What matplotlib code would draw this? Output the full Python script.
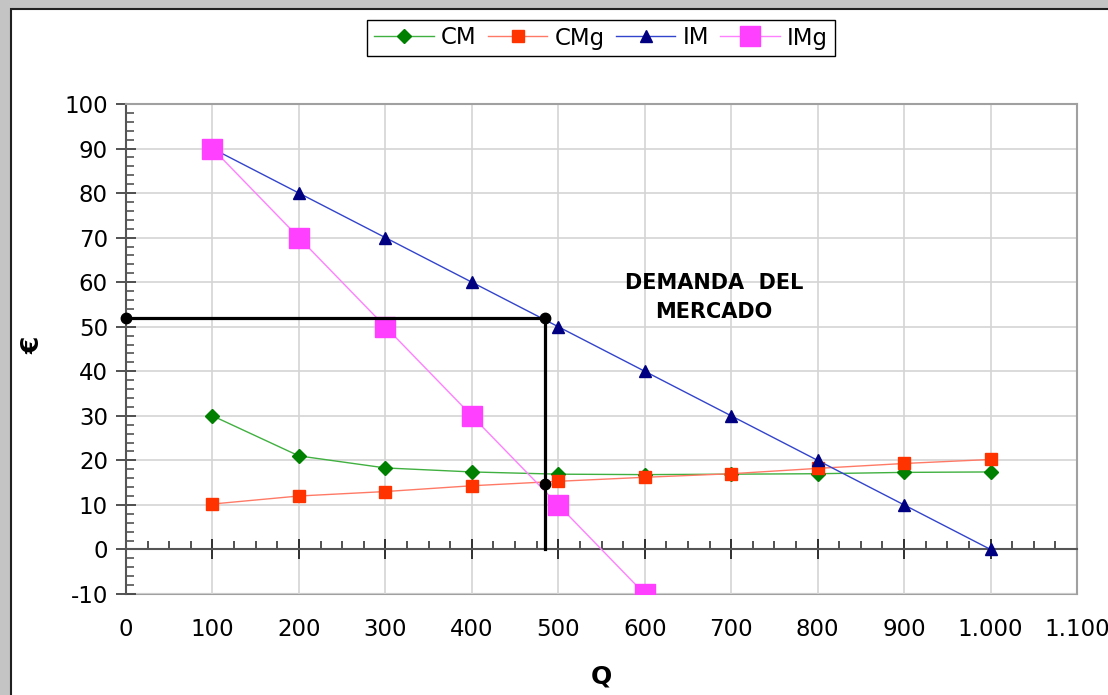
import matplotlib.pyplot as plt
from matplotlib.patches import Rectangle
from matplotlib.ticker import MultipleLocator, FuncFormatter

plt.rcParams['font.family'] = ['DejaVu Sans']
plt.rcParams['axes.unicode_minus'] = False

# data
q = [100, 200, 300, 400, 500, 600, 700, 800, 900, 1000]
cm = [30.0, 21.0, 18.3, 17.4, 16.9, 16.8, 16.9, 17.0, 17.3, 17.4]
cmg = [10.2, 12.0, 13.0, 14.3, 15.3, 16.2, 17.0, 18.2, 19.3, 20.2]
im = [90, 80, 70, 60, 50, 40, 30, 20, 10, 0]
q_img = [100, 200, 300, 400, 500, 600]
img = [90, 70, 50, 30, 10, -10]

# equilibrium guide lines
q_eq = 485
p_eq = 52
c_eq = 14.6

fig = plt.figure(figsize=(11.08, 6.95), dpi=100)
fig.patch.set_facecolor('#c4c4c4')
fig.patches.append(Rectangle((11 / 1108, -0.05), 1.1, 1.05 - 9 / 695,
                             transform=fig.transFigure, facecolor='white',
                             edgecolor='#202020', lw=1.5, zorder=-5))

ax = fig.add_axes([126 / 1108, 1 - 594 / 695, (1077 - 126) / 1108, (594 - 104) / 695])
ax.set_facecolor('white')

ax.plot(q, cm, color='#40b040', lw=1, marker='D', ms=7, mfc='#008000', mec='#008000', label='CM', zorder=3)
ax.plot(q, cmg, color='#ff7a66', lw=1, marker='s', ms=8.5, mfc='#ff3300', mec='#ff3300', label='CMg', zorder=3)
ax.plot(q, im, color='#3344cc', lw=1, marker='^', ms=9, mfc='#000080', mec='#000080', label='IM', zorder=3)
ax.plot(q_img, img, color='#ff80ff', lw=1, marker='s', ms=14.5, mfc='#ff40ff', mec='#ff40ff', label='IMg', zorder=3)

ax.plot([0, q_eq, q_eq], [p_eq, p_eq, 0], color='black', lw=2.3, zorder=4, clip_on=False)
ax.plot([0, q_eq, q_eq], [p_eq, p_eq, c_eq], ls='none', marker='o', ms=7.5, color='black', zorder=5, clip_on=False)

ax.text(680, 56.5, 'DEMANDA  DEL\nMERCADO', ha='center', va='center',
        fontsize=15, fontweight='bold', linespacing=1.55, zorder=6)

ax.set_xlim(0, 1100)
ax.set_ylim(-10, 100)

ax.xaxis.set_major_locator(MultipleLocator(100))
ax.xaxis.set_minor_locator(MultipleLocator(25))
ax.yaxis.set_major_locator(MultipleLocator(10))
ax.yaxis.set_minor_locator(MultipleLocator(2))
ax.grid(True, which='major', color='#d4d4d4', lw=1.2)
ax.set_axisbelow(True)

# horizontal axis line sits at y = 0
ax.spines['bottom'].set_position(('data', 0))
ax.spines['bottom'].set_color('#555555')
ax.spines['bottom'].set_linewidth(1.5)
for s in ['top', 'right']:
    ax.spines[s].set_color('#a0a0a0')
    ax.spines[s].set_linewidth(1.5)
ax.spines['left'].set_color('#555555')
ax.spines['left'].set_linewidth(1.5)

ax.tick_params(axis='x', which='major', direction='inout', length=14, width=1.3,
               color='#222222', labelbottom=False)
ax.tick_params(axis='x', which='minor', direction='in', length=6, width=1.1, color='#222222')
ax.tick_params(axis='y', which='major', direction='inout', length=14, width=1.3,
               color='#444444', labelsize=16.5, pad=6)
ax.tick_params(axis='y', which='minor', direction='in', length=6, width=1.1, color='#444444')

# labels and bottom border of the plot area
xlab = ax.secondary_xaxis('bottom')
xlab.xaxis.set_major_locator(MultipleLocator(100))
xlab.xaxis.set_major_formatter(FuncFormatter(lambda v, p: f'{int(v):,}'.replace(',', '.')))
xlab.spines['bottom'].set_color('#a0a0a0')
xlab.spines['bottom'].set_linewidth(1.5)
xlab.tick_params(length=0, labelsize=16.5, pad=17)
xlab.set_xlabel('Q', fontsize=18, fontweight='bold', labelpad=17)

fig.text(33 / 1108, 1 - 345 / 695, '€', fontsize=18, fontweight='bold',
         rotation=90, ha='center', va='center')

fig.legend(loc='center', bbox_to_anchor=(601 / 1108, 1 - 38 / 695), ncol=4,
           fontsize=16.5, frameon=True, fancybox=False, edgecolor='black',
           framealpha=1, handlelength=2.6, columnspacing=0.5, handletextpad=0.3,
           borderpad=0.3, borderaxespad=0)

fig.savefig('out.png', dpi=100, facecolor=fig.get_facecolor())
